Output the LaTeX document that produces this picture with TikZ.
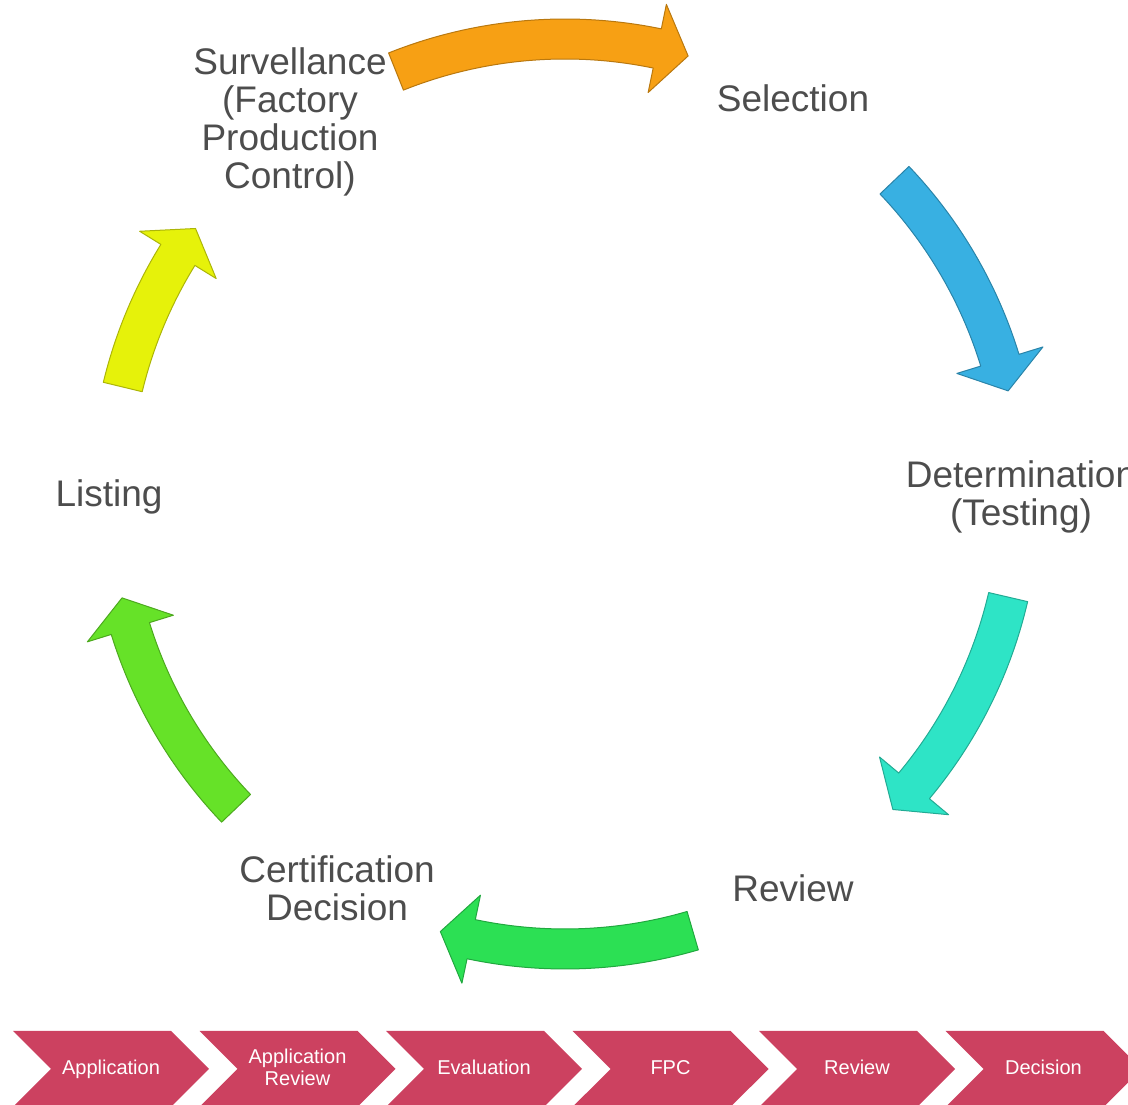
\documentclass[tikz,border=0pt]{standalone}
\usepackage{fontspec}
\setmainfont{Liberation Sans}
\usepackage{tikz}
\usetikzlibrary{shapes.symbols}

\definecolor{labelgray}{RGB}{77,77,77}
\definecolor{stagered}{RGB}{204,65,96}
\definecolor{arroworange}{RGB}{247,160,20}
\definecolor{arrowblue}{RGB}{56,176,226}
\definecolor{arrowteal}{RGB}{46,228,198}
\definecolor{arrowgreen}{RGB}{44,224,84}
\definecolor{arrowlime}{RGB}{102,226,40}
\definecolor{arrowyellow}{RGB}{230,242,10}

% fat curved arrow round the hub: from angle, to angle, colour
\newcommand\cyclearrow[3]{%
  \pgfmathsetmacro\headbase{#2+4}%
  \filldraw[fill=#3,draw=#3!75!black,line width=1pt,line join=round]
    (#1:475) arc[start angle=#1,end angle=\headbase,radius=475]
    -- (\headbase:500) -- (#2:455) -- (\headbase:410) -- (\headbase:435)
    arc[start angle=\headbase,end angle=#1,radius=435] -- cycle;}

\begin{document}
\begin{tikzpicture}[x=1pt,y=1pt,
    cyclelabel/.style={text=labelgray,align=center,inner sep=0pt,yshift=-5,
      font=\fontsize{37}{38}\selectfont,execute at begin node=\strut},
    stage/.style={signal,signal from=west,signal to=east,signal pointer angle=90,
      fill=stagered,text=white,align=center,inner sep=0pt,
      minimum width=196,minimum height=76,font=\fontsize{20}{22}\selectfont,
      execute at begin node=\rule[-3.6pt]{0pt}{18.4pt}}]
  \useasboundingbox (0,0) rectangle (1128,1105);
  \coordinate (hub) at (565,611);

  \path (hub) ++(120:456) ++(-47,-20) node[cyclelabel] (surveillance)
    {Survellance\\(Factory\\Production\\Control)};
  \path (hub) ++(60:456) node[cyclelabel] (selection) {Selection};
  \path (hub) ++(0:456) node[cyclelabel] (determination) {Determination\\(Testing)};
  \path (hub) ++(-60:456) node[cyclelabel] (review) {Review};
  \path (hub) ++(-120:456) node[cyclelabel] (decision) {Certification\\Decision};
  \path (hub) ++(180:456) node[cyclelabel] (listing) {Listing};

  \begin{scope}[shift={(hub)}]
    \cyclearrow{111.8}{74.3}{arroworange}
    \cyclearrow{43.6}{13.1}{arrowblue}
    \cyclearrow{-13.1}{-43.9}{arrowteal}
    \cyclearrow{-73.7}{-105.9}{arrowgreen}
    \cyclearrow{223.7}{193.2}{arrowlime}
    \cyclearrow{166.4}{144.3}{arrowyellow}
  \end{scope}

  % process steps along the bottom
  \foreach \i/\step in {0/Application,1/{Application\\Review},2/Evaluation,
      3/FPC,4/Review,5/Decision}
    \node[stage] (stage\i) at (111+186.5*\i,36) {\step};
\end{tikzpicture}
\end{document}
